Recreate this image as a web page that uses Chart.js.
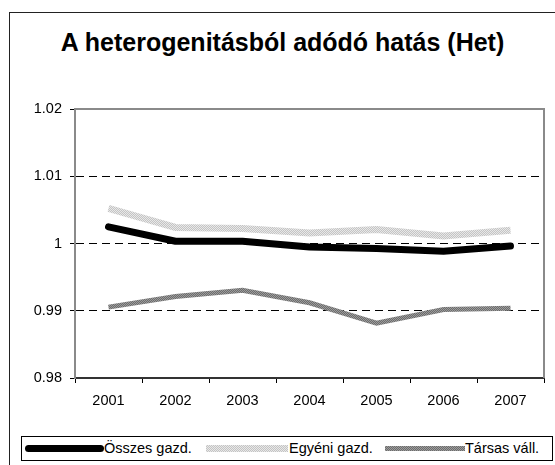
<!DOCTYPE html>
<html>
<head>
<meta charset="utf-8">
<script src="https://cdn.jsdelivr.net/npm/chart.js@4"></script>
<style>
  html, body { margin: 0; padding: 0; background: #fff; }
  body { width: 555px; height: 465px; position: relative; overflow: hidden; font-family: "Liberation Sans", Arial, sans-serif; }
  #frame { position: absolute; left: 9px; top: 12px; width: 700px; height: 600px; border: 1px solid #222; }
  #title { position: absolute; left: 0; top: 30px; width: 565px; text-align: center; font-weight: bold; font-size: 25px; line-height: 25px; color: #000; }
  #chart-wrap { position: absolute; left: 0; top: 0; width: 555px; height: 420px; }
  #legend { position: absolute; left: 21px; top: 436px; width: 530px; height: 23px; border: 1px solid #000; font-size: 14.5px; }
  .sw { position: absolute; }
  .lbl { position: absolute; top: 3px; line-height: 16px; white-space: nowrap; color: #000; }
</style>
</head>
<body>
<div id="frame"></div>
<div id="title">A heterogenitásból adódó hatás (Het)</div>
<div id="chart-wrap"><canvas id="het-chart" width="555" height="420"></canvas></div>
<div id="legend"></div>

<script>
/* Het index by farm type, 2001–2007 */

const YEARS = ['2001', '2002', '2003', '2004', '2005', '2006', '2007'];
const OSSZES = [1.00248, 1.00034, 1.00034, 0.99949, 0.99925, 0.99885, 0.99964];
const EGYENI = [1.00522, 1.00239, 1.00224, 1.00158, 1.00209, 1.00113, 1.00198];
const TARSAS = [0.99054, 0.99213, 0.99303, 0.99119, 0.98815, 0.99019, 0.99039];
const Y_TICKS = [0.98, 0.99, 1, 1.01, 1.02];

// small checker textures for the two grey series
function checker(a, b) {
    const c = document.createElement('canvas');
    c.width = 2; c.height = 2;
    const g = c.getContext('2d');
    g.fillStyle = a; g.fillRect(0, 0, 2, 2);
    g.fillStyle = b; g.fillRect(0, 0, 1, 1); g.fillRect(1, 1, 1, 1);
    return g.createPattern(c, 'repeat');
}

const lightTex = checker('#c4c4c4', '#e8e8e8');
const midTex = checker('#6c6c6c', '#9c9c9c');

// grey frame on top and right of the plot
const plotFrame = {
    id: 'plotFrame',
    afterDatasetsDraw(chart) {
        const { ctx, chartArea: a } = chart;
        ctx.save();
        ctx.strokeStyle = '#8a8a8a';
        ctx.lineWidth = 2;
        ctx.beginPath();
        ctx.moveTo(a.left, a.top);
        ctx.lineTo(a.right, a.top);
        ctx.lineTo(a.right, a.bottom);
        ctx.stroke();
        ctx.restore();
    }
};

const ctx = document.getElementById('het-chart').getContext('2d');
new Chart(ctx, {
    type: 'line',
    data: {
        labels: YEARS,
        datasets: [
            { label: 'Egyéni gazd.', data: EGYENI, borderColor: lightTex, borderWidth: 7, borderCapStyle: 'butt' },
            { label: 'Társas váll.', data: TARSAS, borderColor: midTex, borderWidth: 5, borderCapStyle: 'butt' },
            { label: 'Összes gazd.', data: OSSZES, borderColor: '#000', borderWidth: 7, borderCapStyle: 'round', borderJoinStyle: 'round' },
        ],
    },
    options: {
        responsive: false,
        animation: false,
        events: [],
        elements: { point: { radius: 0 }, line: { tension: 0 } },
        layout: { padding: { top: 109, right: 11, left: 0, bottom: 0 } },
        plugins: { legend: { display: false }, title: { display: false }, tooltip: { enabled: false } },
        scales: {
            x: {
                offset: true,
                grid: { offset: true, drawOnChartArea: false, tickLength: 5, tickColor: '#000', tickWidth: 1 },
                border: { color: '#333', width: 2 },
                ticks: { color: '#000', padding: 9, maxRotation: 0, font: { family: 'Liberation Sans', size: 14.5 } },
                afterFit: s => { s.height = 42; },
            },
            y: {
                min: 0.98,
                max: 1.02,
                afterBuildTicks: s => { s.ticks = Y_TICKS.map(v => ({ value: v })); },
                grid: {
                    color: c => (c.tick && (c.tick.value === 0.98 || c.tick.value === 1.02)) ? 'rgba(0,0,0,0)' : '#000',
                    lineWidth: 1,
                    tickLength: 5,
                    tickColor: '#000',
                },
                border: { color: '#8a8a8a', width: 2, dash: [8, 5] },
                ticks: {
                    color: '#000',
                    padding: 8,
                    font: { family: 'Liberation Sans', size: 14.5 },
                    callback: v => String(+Number(v).toFixed(2)),
                },
                afterFit: s => { s.width = 75; },
            },
        },
    },
    plugins: [plotFrame],
});

// legend below the chart
const legendItems = [
    { text: 'Összes gazd.', left: 3, width: 79, height: 7, bg: '#000', radius: '4px', textLeft: 82 },
    { text: 'Egyéni gazd.', left: 184, width: 82, height: 7, bg: 'repeating-conic-gradient(#c4c4c4 0 25%, #e8e8e8 0 50%) 0 0/2px 2px', radius: '0', textLeft: 267 },
    { text: 'Társas váll.', left: 363, width: 80, height: 5, bg: 'repeating-conic-gradient(#6c6c6c 0 25%, #9c9c9c 0 50%) 0 0/2px 2px', radius: '0', textLeft: 443 },
];
const legend = document.getElementById('legend');
legend.innerHTML = legendItems.map(it => `
    <div class="sw" style="left:${it.left}px;top:${11.5 - it.height / 2}px;width:${it.width}px;height:${it.height}px;background:${it.bg};border-radius:${it.radius}"></div>
    <div class="lbl" style="left:${it.textLeft}px">${it.text}</div>
`).join('');
</script>
</body>
</html>
